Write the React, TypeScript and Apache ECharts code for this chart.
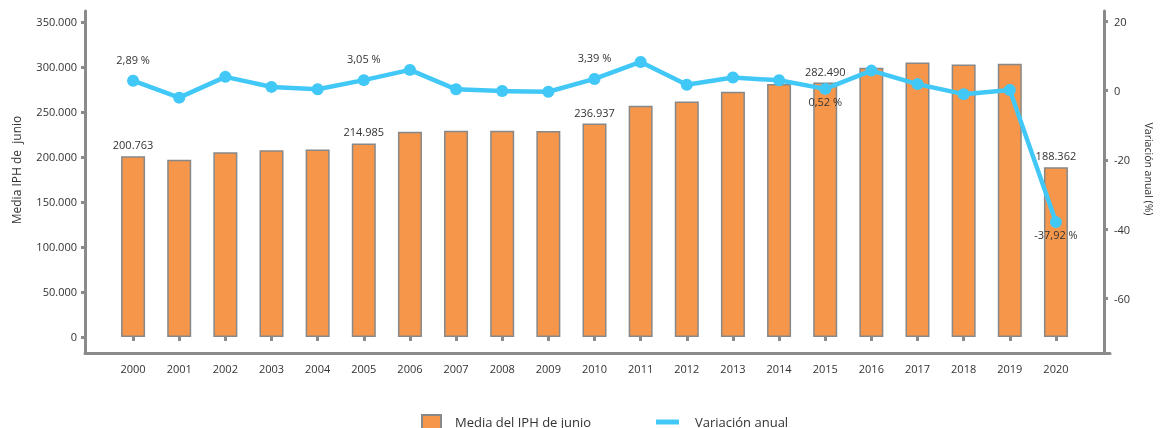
import React, { useEffect, useRef } from "react";
import * as echarts from "echarts";

const years = ["2000","2001","2002","2003","2004","2005","2006","2007","2008","2009","2010","2011","2012","2013","2014","2015","2016","2017","2018","2019","2020"];
const iphValues = [200763, 196700, 205000, 207400, 208200, 214985, 227900, 229000, 229000, 228700, 236937, 256700, 261400, 272400, 281030, 282490, 299000, 304700, 302700, 303400, 188362];
const variation = [2.89, -2.0, 4.0, 1.1, 0.4, 3.05, 6.0, 0.4, -0.1, -0.3, 3.39, 8.3, 1.7, 3.8, 3.0, 0.52, 5.8, 1.9, -1.0, 0.2, -37.92];
const leftTicks = [0, 50000, 100000, 150000, 200000, 250000, 300000, 350000];
const rightTicks = [-60, -40, -20, 0, 20];
const barLabelIdx = [0, 5, 10, 15, 20];
const lineLabelAbove = [0, 5, 10];
const lineLabelBelow = [15, 20];

const fmtThousands = (v: number) => {
  const s = Math.round(v).toString();
  return s.replace(/\B(?=(\d{3})+(?!\d))/g, ".");
};
const fmtPct = (v: number) => v.toFixed(2).replace(".", ",") + " %";

const AXIS_COLOR = "#8a8a8a";
const TEXT_COLOR = "#333";
const FONT = "Open Sans";

export default function App() {
  const ref = useRef<HTMLDivElement>(null);
  useEffect(() => {
    if (!ref.current) return;
    const chart = echarts.init(ref.current, undefined, { renderer: "svg" });
    const barData = iphValues.map((v, i) => ({
      value: v,
      label: { show: barLabelIdx.includes(i) },
    }));
    const lineData = variation.map((v, i) => {
      if (lineLabelAbove.includes(i)) {
        return { value: v, label: { show: true, position: "top", distance: 10 } };
      }
      if (lineLabelBelow.includes(i)) {
        return { value: v, label: { show: true, position: "bottom", distance: 1 } };
      }
      return { value: v, label: { show: false } };
    });
    chart.setOption({
      animation: false,
      textStyle: { fontFamily: FONT },
      grid: [
        { left: 110, right: 77, top: 11, bottom: 75 },
        { left: 85, right: 52, top: 11, bottom: 75 },
      ],
      legend: [
        {
          left: 421,
          top: 414,
          padding: 0,
          itemWidth: 19,
          itemHeight: 14,
          data: [{ name: "Media del IPH de junio", icon: "rect" }],
          textStyle: { fontFamily: FONT, fontSize: 13, color: TEXT_COLOR, padding: [0, 0, 0, 9] },
          selectedMode: false,
        },
        {
          left: 656,
          top: 415.5,
          padding: 0,
          itemWidth: 23,
          itemHeight: 5,
          data: [{ name: "Variación anual", icon: "rect" }],
          textStyle: { fontFamily: FONT, fontSize: 13, color: TEXT_COLOR, padding: [0, 0, 4, 11] },
          selectedMode: false,
        },
      ],
      xAxis: [
        {
          type: "category",
          gridIndex: 0,
          data: years,
          axisLine: { show: false },
          axisTick: { show: true, alignWithLabel: true, length: 4, lineStyle: { color: AXIS_COLOR, width: 3 } },
          axisLabel: { fontSize: 11, color: TEXT_COLOR, margin: 10, fontFamily: FONT },
          splitLine: { show: false },
        },
        {
          type: "value",
          gridIndex: 1,
          min: 0,
          max: 1,
          axisLine: { show: true, lineStyle: { color: AXIS_COLOR, width: 3 } },
          axisTick: { show: false },
          axisLabel: { show: false },
          splitLine: { show: false },
        },
      ],
      yAxis: [
        {
          type: "value",
          gridIndex: 0,
          position: "left",
          offset: 25,
          min: -17800,
          max: 362000,
          name: "Media IPH de  junio",
          nameLocation: "middle",
          nameGap: 63,
          nameTextStyle: { fontSize: 12, color: TEXT_COLOR, fontFamily: FONT, padding: [0, 0, 0, 24] },
          axisLine: { show: true, lineStyle: { color: AXIS_COLOR, width: 3 } },
          axisTick: { show: true, length: 4, lineStyle: { color: AXIS_COLOR, width: 3 }, customValues: leftTicks },
          axisLabel: { fontSize: 11, color: TEXT_COLOR, margin: 8, fontFamily: FONT, customValues: leftTicks, formatter: (v: number) => fmtThousands(v) },
          splitLine: { show: false },
        },
        {
          type: "value",
          gridIndex: 0,
          position: "right",
          offset: 25,
          min: -75.7,
          max: 23.0,
          name: "Variación anual (%)",
          nameLocation: "middle",
          nameRotate: -90,
          nameGap: 39,
          nameTextStyle: { fontSize: 10.5, color: TEXT_COLOR, fontFamily: FONT, padding: [0, 26, 0, 0] },
          axisLine: { show: true, lineStyle: { color: AXIS_COLOR, width: 3 } },
          axisTick: { show: true, length: 4, lineStyle: { color: AXIS_COLOR, width: 3 }, customValues: rightTicks },
          axisLabel: { fontSize: 11, color: TEXT_COLOR, margin: 10, fontFamily: FONT, customValues: rightTicks, formatter: (v: number) => String(v) },
          splitLine: { show: false },
        },
        {
          type: "value",
          gridIndex: 1,
          show: false,
          min: 0,
          max: 1,
        },
      ],
      series: [
        {
          name: "Media del IPH de junio",
          type: "bar",
          xAxisIndex: 0,
          yAxisIndex: 0,
          barWidth: 24,
          data: barData,
          itemStyle: { color: "#F5964A", borderColor: "#888", borderWidth: 1.5 },
          label: {
            position: "top",
            distance: 6,
            fontSize: 11,
            color: TEXT_COLOR,
            fontFamily: FONT,
            formatter: (p: any) => fmtThousands(p.value),
          },
        },
        {
          name: "Variación anual",
          type: "line",
          xAxisIndex: 0,
          yAxisIndex: 1,
          data: lineData,
          symbol: "circle",
          symbolSize: 12,
          lineStyle: { color: "#42C8F7", width: 4.5 },
          itemStyle: { color: "#42C8F7" },
          label: {
            fontSize: 11,
            color: TEXT_COLOR,
            fontFamily: FONT,
            formatter: (p: any) => fmtPct(p.value),
          },
          z: 3,
        },
      ],
    });
    return () => chart.dispose();
  }, []);
  return <div ref={ref} style={{ position: "fixed", left: 0, top: 0, width: 1162, height: 428 }} />;
}
